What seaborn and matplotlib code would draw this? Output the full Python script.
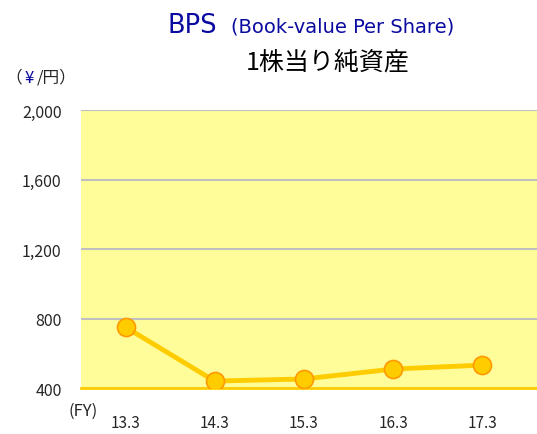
import matplotlib
matplotlib.use("Agg")
import matplotlib.pyplot as plt
import seaborn as sns
import pandas as pd

# BPS values (yen)
years = ["13.3", "14.3", "15.3", "16.3", "17.3"]
bps = [750, 440, 452, 509, 532]
y_ticks = [400, 800, 1200, 1600, 2000]

df = pd.DataFrame({"year": years, "bps": bps})
df["pos"] = range(len(years))

sns.set_style("white")
plt.rcParams["font.family"] = ["Noto Sans CJK JP", "DejaVu Sans"]

fig = plt.figure(figsize=(5.37, 4.35), dpi=100)
ax = fig.add_axes([0.1508, 0.1057, 0.85, 0.6391])
ax.set_facecolor("#FFFD99")

sns.lineplot(data=df, x="pos", y="bps", ax=ax, color="#FFCC00", linewidth=3.5,
             marker="o", markersize=13, markerfacecolor="#FFCC00",
             markeredgecolor="#FF9900", markeredgewidth=1.2, zorder=3)

ax.set_xlim(-0.5, 4.62)
ax.set_ylim(400, 2000)
ax.set_yticks(y_ticks)
ax.set_yticklabels([f"{v:,}" for v in y_ticks], fontsize=11.5)
for v in y_ticks[1:]:
    ax.axhline(v, color="#C0C0C0", linewidth=1.5, zorder=1)

ax.set_xticks(range(len(years)))
ax.set_xticklabels(years, fontsize=11)
ax.set_xticks([i + 0.5 for i in range(len(years) - 1)], minor=True)
ax.tick_params(axis="x", which="major", length=0, pad=19)
ax.tick_params(axis="x", which="minor", length=4, width=1.2,
               direction="in", color="#FFCC00")
ax.tick_params(axis="y", length=0, pad=14)
ax.set_xlabel("")
ax.set_ylabel("")

for side in ["top", "right", "left"]:
    ax.spines[side].set_visible(False)
ax.spines["bottom"].set_color("#FFCC00")
ax.spines["bottom"].set_linewidth(2)

fig.text(0.128, 0.054, "(FY)", fontsize=12, ha="left", va="center")

# titles
fig.text(0.312, 0.94, "BPS", fontsize=18.5, color="#0A0AA0", ha="left",
         va="center", family="DejaVu Sans")
fig.text(0.430, 0.938, "(Book-value Per Share)", fontsize=14, color="#0A0AA0",
         ha="left", va="center", family="DejaVu Sans")
fig.text(0.61, 0.857, "1株当り純資産", fontsize=18, color="black",
         ha="center", va="center")

fig.text(0.010, 0.82, "（", fontsize=12, ha="left", va="center")
fig.text(0.045, 0.82, "¥", fontsize=12, color="#0A0AA0", ha="left", va="center")
fig.text(0.069, 0.82, "/円）", fontsize=12, ha="left", va="center")

fig.savefig("out.png", dpi=100)
